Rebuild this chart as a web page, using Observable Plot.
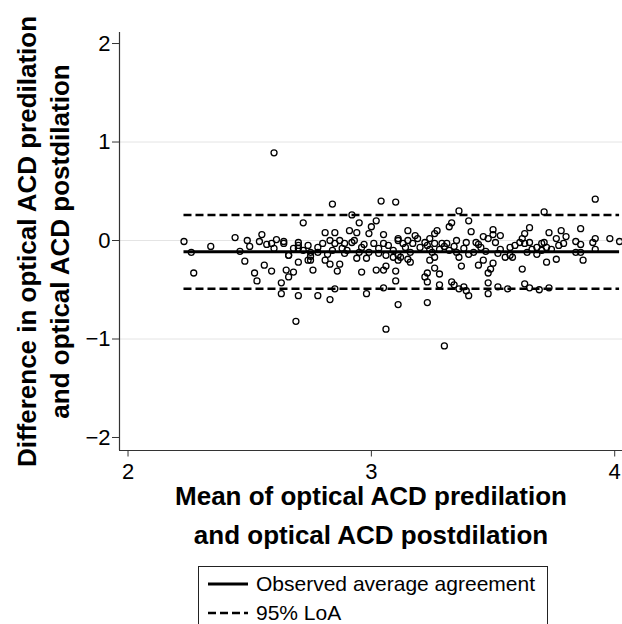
<!DOCTYPE html>
<html>
<head>
<meta charset="utf-8">
<script src="https://cdn.jsdelivr.net/npm/d3@7"></script>
<script src="https://cdn.jsdelivr.net/npm/@observablehq/plot@0.6"></script>
<style>
  html, body { margin: 0; padding: 0; background: #fff; }
  body { font-family: "Liberation Sans", Arial, sans-serif; width: 622px; height: 624px; overflow: hidden; }
  #legend {
    margin-left: 198px; margin-top: 8px; width: 350px; height: 80px;
    border: 1.3px solid #222; box-sizing: border-box; padding-top: 3px; padding-left: 9px;
  }
  .row { display: flex; align-items: center; height: 28.5px; font-size: 21px; color: #000; }
  .row svg { margin-right: 8px; flex: none; }
</style>
</head>
<body>
<div id="chart"></div>
<div id="legend"></div>
<script>
const meanVals = [
  2.60, 2.23, 2.26, 2.34, 2.27, 2.44, 2.46, 2.49, 2.50, 2.48, 2.54, 2.55, 2.57, 2.59, 2.60, 2.61, 2.64, 2.64, 2.66, 2.56,
  2.59, 2.52, 2.53, 2.65, 2.66, 2.63, 2.63,
  2.84, 3.04, 3.10, 2.92, 2.72, 2.81, 2.85, 2.91, 2.95, 3.00, 3.02, 2.94, 2.99, 3.05, 2.68, 2.70, 2.70, 2.70, 2.75, 2.75,
  2.75, 2.74, 2.78, 2.83, 2.85, 2.87, 2.88, 2.89, 2.92, 2.96, 2.99, 3.01, 3.03, 3.06, 3.09, 3.09, 3.11, 2.66, 2.70, 2.74,
  2.76, 2.81, 2.83, 2.87, 2.86, 2.94, 2.96, 2.98, 3.02, 3.05, 3.06, 3.10, 2.68, 2.70, 2.78, 2.83, 2.85, 2.98, 3.05, 3.10,
  3.11, 2.69, 3.06,
  2.72, 2.80, 2.84, 2.90, 2.93, 2.97, 3.07, 3.11, 3.05, 2.78, 2.95, 3.03, 2.89, 2.82,
  3.36, 3.33, 3.32, 3.40, 3.41, 3.15, 3.27, 3.26, 3.18, 3.31, 3.35, 3.39, 3.43, 3.46, 3.48, 3.50, 3.50, 3.53, 3.51,
  3.11, 3.13, 3.14, 3.15, 3.16, 3.17, 3.19, 3.20, 3.22, 3.23, 3.24, 3.24, 3.25, 3.26, 3.28, 3.29, 3.12, 3.15, 3.16, 3.11,
  3.24, 3.26, 3.36, 3.37, 3.44, 3.46, 3.50, 3.49, 3.48, 3.55, 3.26, 3.28, 3.23, 3.22, 3.23, 3.28, 3.33, 3.34, 3.36, 3.38,
  3.39, 3.40, 3.48, 3.48, 3.52, 3.56, 3.23, 3.30,
  3.32, 3.38, 3.42, 3.45, 3.40, 3.35, 3.47, 3.53, 3.30, 3.44, 3.34, 3.52,
  3.92, 3.71, 3.65, 3.63, 3.73, 3.78, 3.76, 3.80, 3.86, 3.84, 3.86, 3.91, 3.92, 3.98, 4.02, 3.92, 3.87, 3.72, 3.76, 3.62,
  3.63, 3.65, 3.69, 3.73,
  3.57, 3.58, 3.59, 3.61, 3.62, 3.63, 3.64, 3.65, 3.66, 3.68, 3.68, 3.70, 3.70, 3.71, 3.72, 3.74, 3.77, 3.79, 3.57,
  3.84, 3.86
];
const diffVals = [
  0.89, -0.01, -0.12, -0.06, -0.33, 0.03, -0.11, 0.00, -0.06, -0.21, -0.01, 0.06, -0.04, -0.03, -0.08, 0.01, -0.01, -0.03, -0.15, -0.25,
  -0.31, -0.33, -0.41, -0.30, -0.37, -0.43, -0.54,
  0.37, 0.40, 0.39, 0.26, 0.18, 0.08, 0.08, 0.10, 0.18, 0.14, 0.20, 0.08, 0.07, 0.06, -0.08, -0.02, -0.05, -0.08, -0.12, -0.16,
  -0.20, -0.05, -0.07, 0.00, -0.03, 0.00, -0.08, -0.03, -0.02, -0.07, -0.12, -0.03, -0.08, -0.15, -0.17, -0.10, -0.15, -0.15, -0.22, -0.20,
  -0.30, -0.20, -0.24, -0.24, -0.31, -0.18, -0.32, -0.18, -0.30, -0.30, -0.26, -0.31, -0.32, -0.56, -0.56, -0.60, -0.49, -0.54, -0.48, -0.41,
  -0.65, -0.82, -0.90,
  -0.10, -0.03, -0.10, -0.10, 0.00, -0.04, -0.05, 0.00, -0.03, -0.12, -0.12, -0.13, -0.13, -0.14,
  0.30, 0.18, 0.14, 0.20, 0.09, 0.10, 0.10, 0.07, 0.05, -0.03, 0.00, -0.02, -0.02, 0.04, 0.02, 0.11, 0.06, 0.05, -0.02,
  0.02, -0.03, -0.07, 0.00, -0.12, -0.03, 0.02, -0.07, -0.02, -0.05, 0.02, -0.09, -0.12, -0.03, -0.09, -0.03, -0.17, -0.19, -0.22, -0.20,
  -0.20, -0.17, -0.17, -0.26, -0.25, -0.20, -0.23, -0.29, -0.33, -0.17, -0.28, -0.34, -0.33, -0.37, -0.42, -0.45, -0.42, -0.45, -0.49, -0.47,
  -0.51, -0.56, -0.43, -0.54, -0.47, -0.49, -0.63, -1.07,
  -0.10, -0.08, -0.12, -0.07, -0.14, -0.12, -0.11, -0.09, -0.06, -0.04, -0.06, -0.13,
  0.42, 0.29, 0.13, 0.07, 0.08, 0.10, 0.02, 0.04, 0.12, -0.01, -0.04, -0.02, 0.02, 0.02, -0.01, -0.09, -0.20, -0.22, -0.19, -0.29,
  -0.44, -0.48, -0.50, -0.48,
  -0.07, -0.17, -0.05, -0.02, 0.02, -0.03, -0.12, -0.02, -0.09, -0.14, -0.07, -0.03, -0.10, -0.02, -0.07, -0.09, -0.05, -0.03, -0.15,
  -0.12, -0.12
];

// Agreement lines
const meanDiff = -0.115;
const loaValues = [0.26, -0.49];
const lineRange = [2.23, 4.02];

// Axes
const xTicks = [2, 3, 4];
const yTicks = [-2, -1, 0, 1, 2];
const gridTicks = [-1, 0, 1];
const xDomain = [1.965, 4.032];
const yDomain = [-2.132, 2.112];
const xTitle = "Mean of optical ACD predilation\nand optical ACD postdilation";
const yTitle = "Difference in optical ACD predilation\nand optical ACD postdilation";
const legendLabels = ["Observed average agreement", "95% LoA"];

const fmt = d => (d < 0 ? "\u2212" + Math.abs(d) : String(d));
const data = meanVals.map((m, i) => ({m, d: diffVals[i]}));

const chart = Plot.plot({
  width: 622,
  height: 558,
  marginTop: 32,
  marginBottom: 108,
  marginLeft: 119,
  marginRight: 0,
  x: {domain: xDomain},
  y: {domain: yDomain},
  style: {fontFamily: "'Liberation Sans', Arial, sans-serif", background: "#fff", color: "#000", overflow: "visible"},
  marks: [
    Plot.gridY(gridTicks, {stroke: "#e4e4e4", strokeOpacity: 1, strokeWidth: 1}),
    Plot.ruleX([xDomain[0]], {stroke: "#333", strokeWidth: 1.2}),
    Plot.ruleY([yDomain[0]], {stroke: "#333", strokeWidth: 1.2}),
    Plot.axisX(xTicks, {tickSize: 6.5, tickPadding: 6, fontSize: 22, label: null, stroke: "#333", tickFormat: fmt}),
    Plot.axisY(yTicks, {tickSize: 7, tickPadding: 2, fontSize: 22, label: null, stroke: "#333", tickFormat: fmt}),
    Plot.dot(data, {x: "m", y: "d", r: 3, stroke: "#000", strokeWidth: 1.3, fill: "none"}),
    Plot.ruleY([meanDiff], {x1: lineRange[0], x2: lineRange[1], stroke: "#000", strokeWidth: 3}),
    Plot.ruleY(loaValues, {x1: lineRange[0], x2: lineRange[1], stroke: "#000", strokeWidth: 2.5, strokeDasharray: "8,4"}),
    Plot.text([xTitle], {text: d => d, frameAnchor: "bottom", dy: 27, textAnchor: "middle", lineAnchor: "top", fontSize: 26, fontWeight: "bold", lineHeight: 1.5, fill: "#000"}),
    Plot.text([yTitle], {text: d => d, frameAnchor: "left", dx: -108, rotate: -90, textAnchor: "middle", lineAnchor: "top", fontSize: 26, fontWeight: "bold", lineHeight: 1.3, fill: "#000"})
  ]
});
document.getElementById("chart").appendChild(chart);

// Legend
const legend = document.getElementById("legend");
legendLabels.forEach((label, i) => {
  const row = document.createElement("div");
  row.className = "row";
  const dash = i === 1 ? ' stroke-dasharray="8,4"' : "";
  const sw = i === 1 ? 2.5 : 3;
  row.innerHTML = `<svg width="40" height="10"><line x1="0" y1="5" x2="40" y2="5" stroke="#000" stroke-width="${sw}"${dash}/></svg><span>${label}</span>`;
  legend.appendChild(row);
});
</script>
</body>
</html>
